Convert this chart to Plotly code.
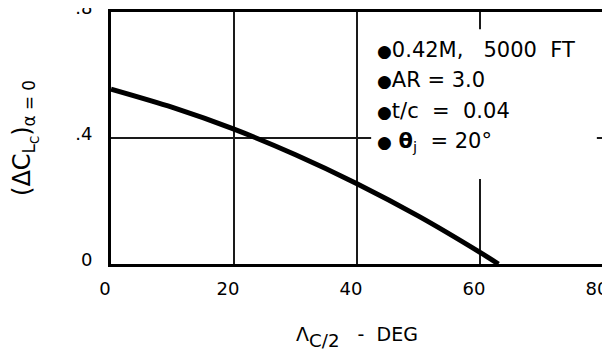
import plotly.graph_objects as go

# Curve
sweep = [0, 10, 20, 30, 40, 50, 60, 63]
dcl = [0.555, 0.497, 0.428, 0.347, 0.255, 0.152, 0.037, 0.0]

x_ticks = [0, 20, 40, 60, 80]
y_ticks = [0, 0.4, 0.8]
y_tick_text = ["0", ".4", ".8"]

dot = "<span style='font-size:17px'>●</span>"
notes = [dot + "0.42M,   5000  FT", dot + "AR = 3.0", dot + "t/c  =  0.04",
         dot + " <b>θ</b><sub>j</sub>  = 20°"]

font = "DejaVu Sans"

fig = go.Figure()
fig.add_trace(go.Scatter(
    x=sweep, y=dcl, mode="lines",
    line=dict(color="black", width=5, shape="spline", smoothing=0.8),
    hoverinfo="skip"
))

# white panel behind the notes, hides the grid there
fig.add_shape(type="rect", x0=42.3, x1=79.0, y0=0.27, y1=0.745,
              fillcolor="white", line_width=0, layer="between")

note_y = [0.679, 0.584, 0.486, 0.387]
for txt, yy in zip(notes, note_y):
    fig.add_annotation(x=43.0, y=yy, text=txt, showarrow=False,
                       xanchor="left", yanchor="middle",
                       font=dict(family=font, size=21, color="black"))

fig.update_xaxes(
    range=[0, 80], tickvals=x_ticks,
    showgrid=True, gridcolor="#1a1a1a", gridwidth=2,
    showline=True, linecolor="black", linewidth=3, mirror=True, zeroline=False,
    automargin=False, ticks="", ticklabelstandoff=6, ticklabelshift=-6,
    ticklabeloverflow="allow",
    tickfont=dict(family=font, size=18, color="black"),
    title=dict(text="<span style='font-size:19px'>Λ</span><sub>C/2</sub>"
                    "<span style='font-size:19px'>   -  DEG</span>",
               standoff=26, font=dict(family=font, size=26, color="black"))
)
fig.update_yaxes(
    range=[0, 0.8], tickvals=y_ticks, ticktext=y_tick_text,
    showgrid=True, gridcolor="#1a1a1a", gridwidth=2,
    showline=True, linecolor="black", linewidth=3, mirror=True, zeroline=False,
    automargin=False, ticks="", ticklabelstandoff=12, ticklabelshift=-4,
    ticklabeloverflow="allow",
    tickfont=dict(family=font, size=18, color="black"),
    title=dict(text="(ΔC<sub>L<sub>C</sub></sub>)<sub>α = 0</sub>",
               standoff=39, font=dict(family=font, size=24, color="black"))
)

# page body adds an 8px margin, so the figure is sized to fit inside it
fig.update_layout(
    width=602, height=350,
    margin=dict(l=103, r=7, t=4, b=94),
    plot_bgcolor="white", paper_bgcolor="white",
    showlegend=False
)

fig.write_html("out.html")
